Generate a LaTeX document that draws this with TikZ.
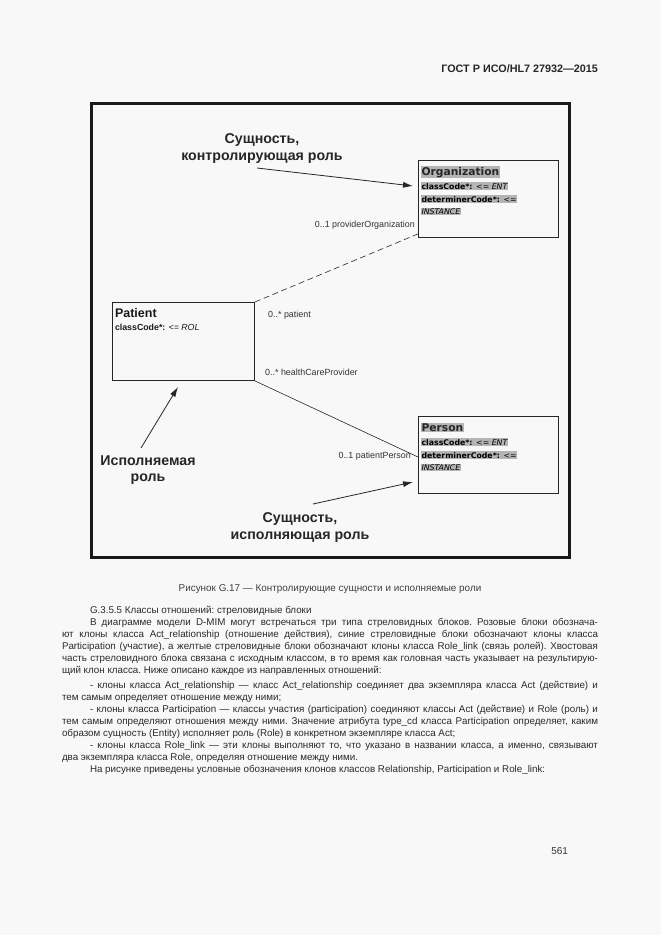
\documentclass[tikz,border=0pt]{standalone}
\usepackage{fontspec}
\setmainfont{Liberation Sans}
\newfontfamily\boxfont{DejaVu Sans}
\usetikzlibrary{arrows.meta,calc}
\definecolor{pagebg}{HTML}{F8F8F8}
\definecolor{bodytext}{HTML}{2A2A2A}
\definecolor{hilite}{HTML}{B4B4B4}
\newcommand\hl[1]{{\setlength{\fboxsep}{0.6pt}\colorbox{hilite}{#1}}}
\tikzset{
  txt/.style={inner sep=0pt, outer sep=0pt, text=bodytext},
  bodyline/.style={txt, anchor=base west, font=\fontsize{9.8}{12}\selectfont\frenchspacing},
  heading/.style={inner sep=0pt, anchor=base, align=center, font=\fontsize{14.2}{17}\selectfont\bfseries, text=black!85},
  classbox/.style={draw=black!85, line width=0.9pt, anchor=north west, minimum width=140pt, inner sep=0pt},
  attr/.style={txt, anchor=base west, font=\boxfont\fontsize{7.8}{9}\selectfont, text=black},
  mult/.style={inner sep=0pt, font=\fontsize{8.9}{10}\selectfont, text=black!80},
  pointer/.style={line width=0.8pt, black!85, -{Latex[length=10pt,width=6pt]}},
  assoc/.style={line width=0.6pt, black!85},
}
\begin{document}
\begin{tikzpicture}[x=1pt,y=-1pt]
\useasboundingbox (0,0) rectangle (661,935);
\fill[pagebg] (0,0) rectangle (661,935);

% page header
\node[txt, anchor=base east, font=\fontsize{10.8}{12}\selectfont\bfseries, text=black!85] (hdr) at (598,72) {ГОСТ Р ИСО/HL7 27932—2015};

% frame
\draw[line width=3pt, black!90] (91,103) rectangle (569,557);

% class boxes
\node[classbox, minimum height=77pt] (org) at (418,160) {};
\node[classbox, minimum height=78pt, minimum width=142pt] (pat) at (112,302) {};
\node[classbox, minimum height=77pt] (per) at (418,416) {};

% Organization contents
\node[txt, anchor=base west, font=\boxfont\fontsize{10.7}{12}\selectfont\bfseries, text=black!85] (orgT) at (421,175) {\hl{Organization}};
\node[attr] (orgA) at (421,189) {\hl{\bfseries classCode*: \mdseries\itshape <= ENT}};
\node[attr] (orgB) at (421,202) {\hl{\bfseries determinerCode*: \mdseries <=}};
\node[attr, font=\boxfont\fontsize{7.8}{9}\selectfont\itshape] (orgC) at (421,214) {\hl{INSTANCE}};

% Person contents
\node[txt, anchor=base west, font=\boxfont\fontsize{10.7}{12}\selectfont\bfseries, text=black!85] (perT) at (421,431) {\hl{Person}};
\node[attr] (perA) at (421,445) {\hl{\bfseries classCode*: \mdseries\itshape <= ENT}};
\node[attr] (perB) at (421,458) {\hl{\bfseries determinerCode*: \mdseries <=}};
\node[attr, font=\boxfont\fontsize{7.8}{9}\selectfont\itshape] (perC) at (421,470) {\hl{INSTANCE}};

% Patient contents
\node[txt, anchor=base west, font=\fontsize{12.5}{14}\selectfont\bfseries, text=black!90] (patT) at (115,317) {Patient};
\node[txt, anchor=base west, font=\fontsize{8.8}{10}\selectfont, text=black!90] (patA) at (115,330) {\bfseries classCode*: \mdseries\itshape <= ROL};

% associations
\draw[assoc, dash pattern=on 6pt off 3.5pt] (pat.north east) -- ([yshift=4pt]org.south west);
\draw[assoc] (pat.south east) -- ([yshift=-41pt]per.north west);

% multiplicities
\node[mult, anchor=base east] (m1) at (415,227) {0..1 providerOrganization};
\node[mult, anchor=base west] (m2) at (268,317) {0..* patient};
\node[mult, anchor=base west] (m3) at (265,375) {0..* healthCareProvider};
\node[mult, anchor=base east] (m4) at (411,458) {0..1 patientPerson};

% annotations
\node[heading] (h1a) at (262,143) {Сущность,};
\node[heading] (h1b) at (262,160) {контролирующая роль};
\node[heading] (h2a) at (148,465) {Исполняемая};
\node[heading] (h2b) at (148,481) {роль};
\node[heading] (h3a) at (300,522) {Сущность,};
\node[heading] (h3b) at (300,539) {исполняющая роль};

\coordinate (s1) at (257,168);
\coordinate (s2) at (141,448);
\coordinate (s3) at (313,504);
\draw[pointer] (s1) -- ($(org.north west)+(-5,26)$);
\draw[pointer] (s2) -- ($(pat.south west)+(66,6)$);
\draw[pointer] (s3) -- ($(per.north west)+(-5,66)$);

% caption
\node[txt, anchor=base, font=\fontsize{9.9}{12}\selectfont, text=black!75] (cap) at (330,591) {Рисунок G.17 — Контролирующие сущности и исполняемые роли};

% body text
\node[bodyline] (l1) at (90,613.5) {G.3.5.5 Классы отношений: стреловидные блоки};
\node[bodyline] (l2) at (90,625.5) {\makebox[508pt][s]{В диаграмме модели D-MIM могут встречаться три типа стреловидных блоков. Розовые блоки обознача-}};
\node[bodyline] (l3) at (62,637.5) {\makebox[536pt][s]{ют клоны класса Act\_relationship (отношение действия), синие стреловидные блоки обозначают клоны класса}};
\node[bodyline] (l4) at (62,649.5) {\makebox[536pt][s]{Participation (участие), а желтые стреловидные блоки обозначают клоны класса Role\_link (связь ролей). Хвостовая}};
\node[bodyline] (l5) at (62,661.5) {\makebox[536pt][s]{часть стреловидного блока связана с исходным классом, в то время как головная часть указывает на результирую-}};
\node[bodyline] (l6) at (62,673.5) {щий клон класса. Ниже описано каждое из направленных отношений:};
\node[bodyline] (l7) at (90,688.5) {\makebox[508pt][s]{- клоны класса Act\_relationship — класс Act\_relationship соединяет два экземпляра класса Act (действие) и}};
\node[bodyline] (l8) at (62,700.5) {тем самым определяет отношение между ними;};
\node[bodyline] (l9) at (90,712.5) {\makebox[508pt][s]{- клоны класса Participation — классы участия (participation) соединяют классы Act (действие) и Role (роль) и}};
\node[bodyline] (l10) at (62,724.5) {\makebox[536pt][s]{тем самым определяют отношения между ними. Значение атрибута type\_cd класса Participation определяет, каким}};
\node[bodyline] (l11) at (62,736.5) {образом сущность (Entity) исполняет роль (Role) в конкретном экземпляре класса Act;};
\node[bodyline] (l12) at (90,748.5) {\makebox[508pt][s]{- клоны класса Role\_link — эти клоны выполняют то, что указано в названии класса, а именно, связывают}};
\node[bodyline] (l13) at (62,760.5) {два экземпляра класса Role, определяя отношение между ними.};
\node[bodyline] (l14) at (90,772.5) {На рисунке приведены условные обозначения клонов классов Relationship, Participation и Role\_link:};

% page number
\node[txt, anchor=base east, font=\fontsize{10}{12}\selectfont, text=black!80] (pg) at (568,854) {561};
\end{tikzpicture}
\end{document}
